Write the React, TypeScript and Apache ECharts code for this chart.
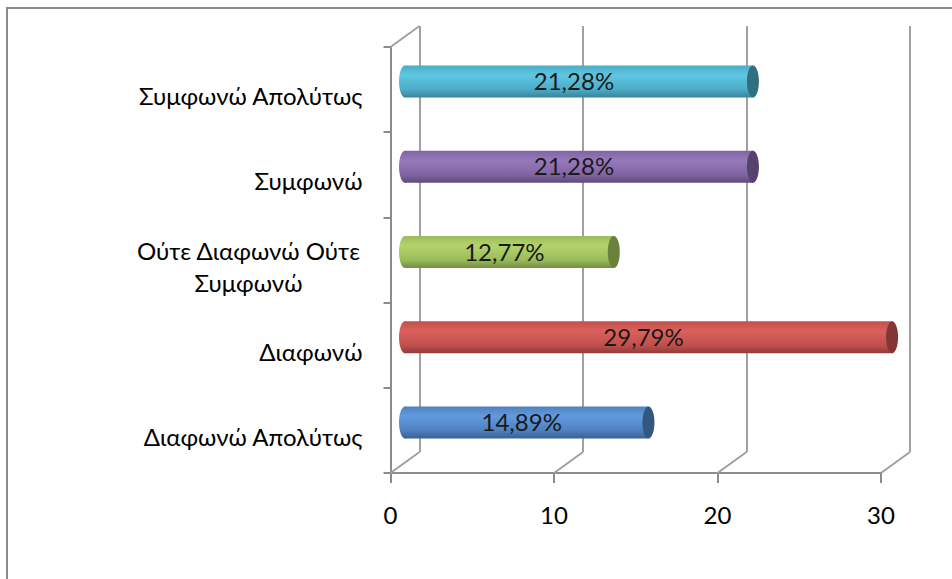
import React, { useEffect, useRef } from "react";
import * as echarts from "echarts";

// Survey answers, listed bottom-to-top as the category axis runs
const categories = [
  "Διαφωνώ Απολύτως",
  "Διαφωνώ",
  "Ούτε Διαφωνώ Ούτε\nΣυμφωνώ",
  "Συμφωνώ",
  "Συμφωνώ Απολύτως",
];
const percentages = [14.89, 29.79, 12.77, 21.28, 21.28];
const axisTicks = [0, 10, 20, 30];

// Cylinder shading per bar (same order as categories)
const barShades = [
  { base: "#4f81bd", light: "#629ae0", dark: "#3a6195", cap: "#34577f" },
  { base: "#c0504d", light: "#da605d", dark: "#923c3a", cap: "#843634" },
  { base: "#9bbb59", light: "#b3d46c", dark: "#748c41", cap: "#6a803b" },
  { base: "#8064a2", light: "#9579ba", dark: "#5f4a79", cap: "#56436d" },
  { base: "#4bacc6", light: "#5fc6e2", dark: "#37839a", cap: "#2f6f80" },
];

const FONT = "Lato, 'Noto Sans', sans-serif";
const FONT_SIZE = 24;
const FRONT = { left: 390.5, top: 47, width: 490.5, height: 426 };
const DEPTH = { x: 29, y: -21 };
const BAR_SHIFT = { x: 14.5, y: -8 };
const BAR_HALF = 16;
const CAP_RX = 6;
const AXIS_GRAY = "#8c8c8c";
const GRID_GRAY = "#a0a0a0";

const formatPct = (v: number) => v.toFixed(2).replace(".", ",") + "%";

const cylinderFill = (s: { base: string; light: string; dark: string }) =>
  new echarts.graphic.LinearGradient(0, 0, 0, 1, [
    { offset: 0, color: s.base },
    { offset: 0.3, color: s.light },
    { offset: 0.75, color: s.base },
    { offset: 1, color: s.dark },
  ]);

export default function App() {
  const ref = useRef<HTMLDivElement>(null);

  useEffect(() => {
    if (!ref.current) return;
    const chart = echarts.init(ref.current, undefined, { renderer: "svg" });

    const sameSize = { width: FRONT.width, height: FRONT.height };

    chart.setOption({
      animation: false,
      backgroundColor: "#ffffff",
      grid: [
        { left: FRONT.left, top: FRONT.top, ...sameSize },
        { left: FRONT.left + DEPTH.x, top: FRONT.top + DEPTH.y, ...sameSize },
        { left: FRONT.left + BAR_SHIFT.x, top: FRONT.top + BAR_SHIFT.y, ...sameSize },
      ],
      xAxis: [
        {
          gridIndex: 0,
          type: "value",
          min: axisTicks[0],
          max: axisTicks[axisTicks.length - 1],
          interval: 10,
          axisLine: { show: true, lineStyle: { color: AXIS_GRAY, width: 2 } },
          axisTick: { show: true, length: 10, lineStyle: { color: AXIS_GRAY, width: 2 } },
          splitLine: { show: false },
          axisLabel: { margin: 29, fontSize: FONT_SIZE, color: "#000", fontFamily: FONT },
        },
        {
          gridIndex: 1,
          type: "value",
          min: axisTicks[0],
          max: axisTicks[axisTicks.length - 1],
          interval: 10,
          axisLine: { show: false },
          axisTick: { show: false },
          axisLabel: { show: false },
          splitLine: { show: true, lineStyle: { color: GRID_GRAY, width: 2 } },
        },
        {
          gridIndex: 2,
          type: "value",
          min: axisTicks[0],
          max: axisTicks[axisTicks.length - 1],
          interval: 10,
          show: false,
        },
      ],
      yAxis: [
        {
          gridIndex: 0,
          type: "category",
          data: categories,
          axisLine: { show: true, lineStyle: { color: AXIS_GRAY, width: 2 } },
          axisTick: { show: true, length: 7, lineStyle: { color: AXIS_GRAY, width: 2 } },
          splitLine: { show: false },
          axisLabel: {
            margin: 28,
            fontSize: FONT_SIZE,
            color: "#000",
            fontFamily: FONT,
            padding: [12, 0, 0, 0],
            formatter: (value: string) => {
              if (!value.includes("\n")) return value;
              return value
                .split("\n")
                .map((line) => `{c|${line}}`)
                .join("\n");
            },
            rich: {
              c: {
                width: 228,
                align: "center",
                fontSize: FONT_SIZE,
                lineHeight: 32,
                color: "#000",
                fontFamily: FONT,
              },
            },
          },
        },
        { gridIndex: 1, type: "category", data: categories, show: false },
        { gridIndex: 2, type: "category", data: categories, show: false },
      ],
      graphic: [
        {
          type: "rect",
          silent: true,
          shape: { x: 7, y: 8, width: 1000, height: 700 },
          style: { fill: "none", stroke: "#8a8a8a", lineWidth: 2 },
        },
      ],
      series: [
        {
          // floor edges joining the front axis to the back wall
          type: "custom",
          xAxisIndex: 0,
          yAxisIndex: 0,
          silent: true,
          z: 1,
          data: axisTicks.map((v) => [v, 0]),
          encode: { x: 0, y: 1 },
          renderItem: (params: any, api: any) => {
            const cs = params.coordSys;
            const x = api.coord([api.value(0), 0])[0];
            const bottom = cs.y + cs.height;
            const lineStyle = { stroke: GRID_GRAY, lineWidth: 2 };
            const children: any[] = [
              {
                type: "line",
                shape: { x1: x, y1: bottom, x2: x + DEPTH.x, y2: bottom + DEPTH.y },
                style: lineStyle,
              },
            ];
            if (params.dataIndex === 0) {
              children.push({
                type: "line",
                shape: { x1: x, y1: cs.y, x2: x + DEPTH.x, y2: cs.y + DEPTH.y },
                style: lineStyle,
              });
            }
            return { type: "group", children };
          },
        },
        {
          // cylinders
          type: "custom",
          xAxisIndex: 2,
          yAxisIndex: 2,
          z: 3,
          data: percentages.map((v, i) => [v, i]),
          encode: { x: 0, y: 1 },
          renderItem: (params: any, api: any) => {
            const idx = params.dataIndex;
            const v = api.value(0);
            const start = api.coord([0, idx]);
            const end = api.coord([v, idx]);
            const cy = start[1];
            const shade = barShades[idx];
            return {
              type: "group",
              children: [
                {
                  type: "ellipse",
                  shape: { cx: start[0], cy, rx: CAP_RX, ry: BAR_HALF },
                  style: { fill: cylinderFill(shade) },
                },
                {
                  type: "rect",
                  shape: {
                    x: start[0],
                    y: cy - BAR_HALF,
                    width: end[0] - start[0],
                    height: BAR_HALF * 2,
                  },
                  style: { fill: cylinderFill(shade) },
                },
                {
                  type: "ellipse",
                  shape: { cx: end[0], cy, rx: CAP_RX, ry: BAR_HALF },
                  style: { fill: shade.cap },
                },
                {
                  type: "text",
                  style: {
                    text: formatPct(v),
                    x: (start[0] + end[0]) / 2 - 5,
                    y: cy - 1,
                    align: "center",
                    verticalAlign: "middle",
                    fontSize: FONT_SIZE,
                    fontFamily: FONT,
                    fill: "#1a1a1a",
                  },
                },
              ],
            };
          },
        },
      ],
    });

    return () => chart.dispose();
  }, []);

  return (
    <div
      ref={ref}
      style={{ position: "fixed", left: 0, top: 0, width: 952, height: 579 }}
    />
  );
}
